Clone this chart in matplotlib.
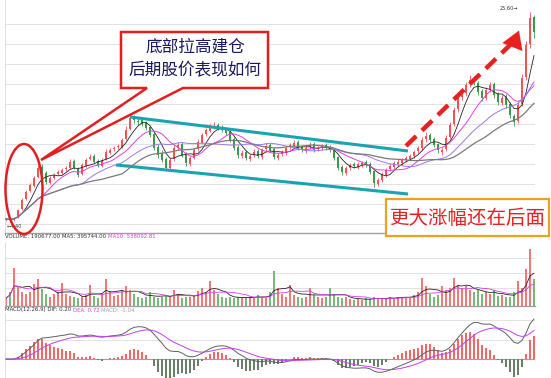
import numpy as np
import pandas as pd
import matplotlib.pyplot as plt
from matplotlib.patches import Ellipse, Rectangle, Polygon
from matplotlib.transforms import Affine2D

plt.rcParams['font.family'] = ['Noto Sans CJK SC', 'DejaVu Sans']

# 日K线数据
opens = [4.8, 4.9, 4.8, 5.1, 5.9, 6.9, 7.7, 8.2, 9.1, 10.1,
         9.5, 8.5, 9.0, 9.4, 9.5, 9.9, 10.0, 10.7, 9.9, 9.4,
         10.2, 10.9, 11.2, 10.7, 10.2, 10.9, 11.5, 11.9, 12.1, 12.1,
         12.9, 13.9, 15.1, 14.7, 14.8, 14.5, 14.1, 13.4, 12.1, 11.5,
         10.9, 10.0, 10.9, 12.0, 12.4, 11.4, 10.4, 11.0, 11.9, 12.5,
         13.4, 13.7, 14.0, 14.3, 14.1, 13.9, 13.6, 12.9, 12.1, 11.2,
         11.6, 10.9, 11.3, 11.7, 11.1, 11.9, 12.3, 11.9, 11.0, 11.4,
         11.5, 12.1, 12.2, 12.6, 12.1, 11.7, 12.1, 12.4, 11.9, 12.0,
         12.3, 12.1, 11.9, 11.1, 10.1, 9.5, 10.0, 10.4, 10.1, 10.3,
         10.6, 10.4, 9.7, 8.4, 8.8, 9.3, 9.9, 10.1, 10.4, 10.5,
         10.8, 10.9, 11.2, 11.7, 12.0, 12.9, 13.3, 12.9, 12.4, 11.6,
         11.9, 13.1, 14.4, 15.9, 17.1, 17.5, 18.4, 18.9, 18.5, 17.7,
         17.0, 17.9, 18.4, 17.4, 16.5, 17.1, 16.4, 15.2, 14.7, 16.4,
         19.1, 22.4, 25.1]
highs = [5.0, 5.0, 5.1, 5.9, 7.0, 7.8, 8.5, 9.2, 10.3, 10.4,
         9.7, 9.2, 9.5, 9.8, 10.0, 10.2, 10.9, 10.9, 10.1, 10.5,
         11.0, 11.4, 11.4, 10.9, 11.0, 11.9, 12.0, 12.2, 12.4, 13.0,
         14.2, 15.4, 15.3, 15.0, 15.0, 14.7, 14.3, 13.6, 12.4, 11.8,
         11.1, 11.0, 12.3, 12.6, 12.6, 11.6, 11.2, 12.0, 12.9, 13.5,
         14.0, 14.4, 14.6, 14.5, 14.3, 14.0, 13.8, 13.1, 12.3, 11.8,
         11.8, 11.4, 11.9, 11.9, 12.0, 12.5, 12.5, 12.1, 11.5, 11.8,
         12.2, 12.5, 12.8, 12.8, 12.3, 12.2, 12.6, 12.6, 12.2, 12.4,
         12.5, 12.3, 12.0, 11.2, 10.3, 10.2, 10.5, 10.6, 10.6, 10.7,
         10.8, 10.6, 9.8, 9.0, 9.6, 10.0, 10.4, 10.7, 10.9, 11.0,
         11.2, 11.4, 11.8, 12.2, 13.1, 13.6, 13.5, 13.1, 12.5, 12.0,
         13.3, 14.6, 16.1, 17.4, 18.0, 18.6, 19.3, 19.2, 18.7, 17.9,
         18.1, 18.6, 18.6, 17.6, 17.3, 17.4, 16.6, 15.4, 16.6, 19.4,
         22.7, 25.6, 25.3]
lows = [4.7, 4.6, 4.7, 5.0, 5.8, 6.8, 7.6, 8.1, 9.0, 9.4,
        8.4, 8.4, 8.9, 9.3, 9.4, 9.7, 9.9, 9.9, 9.1, 9.3,
        10.1, 10.8, 10.5, 10.1, 10.1, 10.8, 11.4, 11.7, 11.9, 12.0,
        12.8, 13.8, 14.5, 14.3, 14.2, 13.8, 13.1, 11.8, 11.0, 10.6,
        9.7, 9.9, 10.7, 11.8, 11.1, 10.2, 10.2, 10.9, 11.7, 12.4,
        13.2, 13.6, 13.9, 13.8, 13.6, 13.3, 12.6, 11.8, 11.0, 11.0,
        10.8, 10.7, 11.1, 11.0, 10.9, 11.7, 11.6, 10.9, 10.8, 11.2,
        11.3, 11.9, 12.0, 11.8, 11.6, 11.5, 11.9, 11.6, 11.7, 11.8,
        11.8, 11.6, 10.8, 9.8, 9.3, 9.3, 9.8, 10.0, 9.9, 10.1,
        10.1, 9.4, 8.1, 8.2, 8.6, 9.1, 9.7, 9.9, 10.2, 10.3,
        10.6, 10.7, 11.0, 11.5, 11.8, 12.6, 12.6, 12.1, 11.5, 11.3,
        11.7, 12.9, 14.2, 15.6, 16.8, 17.2, 18.1, 18.3, 17.3, 16.7,
        16.8, 17.6, 17.0, 16.3, 16.3, 16.0, 15.0, 14.2, 14.5, 16.2,
        18.8, 22.0, 23.0]
closes = [4.9, 4.8, 5.0, 5.8, 6.8, 7.6, 8.3, 9.0, 10.0, 9.6,
          8.6, 9.0, 9.3, 9.6, 9.8, 10.0, 10.6, 10.0, 9.3, 10.3,
          10.8, 11.1, 10.6, 10.3, 10.8, 11.6, 11.8, 12.0, 12.2, 12.8,
          13.8, 15.0, 14.8, 14.6, 14.4, 14.0, 13.3, 12.0, 11.3, 10.8,
          10.0, 10.8, 12.0, 12.3, 11.3, 10.5, 11.0, 11.8, 12.6, 13.3,
          13.8, 14.1, 14.2, 14.0, 13.8, 13.5, 12.8, 12.0, 11.3, 11.5,
          11.0, 11.2, 11.6, 11.2, 11.8, 12.2, 11.8, 11.1, 11.3, 11.6,
          12.0, 12.3, 12.5, 12.0, 11.8, 12.0, 12.3, 11.8, 12.0, 12.2,
          12.0, 11.8, 11.0, 10.0, 9.6, 10.0, 10.3, 10.2, 10.4, 10.5,
          10.3, 9.6, 8.5, 8.8, 9.4, 9.8, 10.2, 10.5, 10.6, 10.8,
          11.0, 11.2, 11.6, 12.0, 12.8, 13.2, 12.8, 12.3, 11.8, 11.8,
          13.0, 14.3, 15.8, 17.0, 17.6, 18.3, 18.8, 18.6, 17.6, 17.0,
          17.8, 18.3, 17.3, 16.6, 17.0, 16.3, 15.3, 14.6, 16.3, 19.0,
          22.3, 25.0, 23.6]
volume = [25, 45, 120, 60, 45, 38, 45, 70, 85, 55,
          38, 30, 38, 44, 72, 38, 32, 28, 25, 30,
          36, 66, 32, 26, 38, 86, 44, 32, 36, 50,
          62, 50, 38, 30, 26, 30, 44, 30, 25, 28,
          36, 30, 50, 38, 26, 28, 30, 36, 48, 56,
          44, 80, 50, 38, 30, 26, 28, 24, 30, 28,
          24, 30, 25, 36, 28, 26, 44, 112, 56, 38,
          30, 68, 36, 30, 25, 30, 56, 36, 28, 25,
          30, 56, 38, 30, 25, 28, 22, 20, 22, 20,
          24, 22, 28, 24, 22, 24, 30, 25, 28, 30,
          26, 30, 36, 44, 90, 62, 38, 28, 36, 62,
          50, 56, 88, 68, 56, 62, 50, 44, 50, 38,
          44, 38, 50, 32, 36, 28, 30, 44, 80, 56,
          118, 180, 86]

# 通道线和箭头（K线序号, 价格）
chan_top = ([31, 100.5], [15.1, 11.7])
chan_bot = ([27.5, 100.5], [10.3, 7.4])
arrow_from = (100, 12.2)
arrow_to = (128.5, 24.0)

df = pd.DataFrame({'open': opens, 'high': highs, 'low': lows,
                   'close': closes, 'vol': volume})
x = np.arange(len(df))
up = df['close'] >= df['open']
c_up, c_dn = '#f25454', '#3a9a4a'
small = ['DejaVu Sans']

W, H = 551, 378
fig = plt.figure(figsize=(W / 100, H / 100), dpi=100)
pix = Affine2D().scale(1 / W, -1 / H).translate(0, 1) + fig.transFigure


def px_axes(x0, y0, x1, y1):
    a = fig.add_axes([x0 / W, 1 - y1 / H, (x1 - x0) / W, (y1 - y0) / H])
    for s in ['top', 'right']:
        a.spines[s].set_visible(False)
    a.spines['left'].set_color('#d8d8d8')
    a.spines['left'].set_linewidth(0.6)
    a.spines['bottom'].set_color('#a0a0a0')
    a.spines['bottom'].set_linewidth(1.0)
    a.set_xticks([])
    a.set_yticks([])
    a.set_xlim(-0.25, len(df) - 0.75)
    return a


# ---------- 主图 ----------
ax = px_axes(5, 0, 535, 233)
ax.set_ylim(3.5, 26.8)
for g in np.arange(4.4, 25, 2.0):
    ax.axhline(g, color='#e2e2e2', lw=0.7, zorder=0)

cols = np.where(up, c_up, c_dn)
ax.vlines(x, df['low'], df['high'], colors=cols, lw=0.6, zorder=2)
ax.bar(x, (df['close'] - df['open']).abs().clip(lower=0.08),
       bottom=df[['open', 'close']].min(axis=1), width=0.6,
       color=cols, lw=0, zorder=2)

ma_style = {5: ('#222222', 0.6), 10: ('#e040e0', 0.7),
            20: ('#9a78f0', 0.7), 30: ('#7a7a7a', 0.9)}
for n, (c, lw) in ma_style.items():
    ax.plot(x, df['close'].rolling(n, min_periods=1).mean(), color=c, lw=lw, zorder=3)

ax.plot(*chan_top, color='#1aa3b3', lw=2.2, zorder=4, solid_capstyle='butt')
ax.plot(*chan_bot, color='#1aa3b3', lw=2.2, zorder=4, solid_capstyle='butt')

# 红色虚线箭头
ax.plot([arrow_from[0], arrow_to[0] - 1.2], [arrow_from[1], arrow_to[1] - 1.2],
        color='#e82020', lw=3.2, dashes=(3.2, 1.8), zorder=5)
ax.annotate('', xy=arrow_to, xytext=(arrow_to[0] - 2.2, arrow_to[1] - 2.2),
            arrowprops=dict(arrowstyle='-|>,head_length=0.9,head_width=0.55',
                            color='#e82020', lw=0.1, mutation_scale=14), zorder=5)

ax.text(2.2, df['low'][1] - 0.45, '←4.40', fontsize=3.6, color='#333333',
        va='center', ha='center', family=small)
ax.text(arrow_to[0] - 0.5, df['high'].max() + 0.1, '25.60→', fontsize=3.6,
        color='#333333', va='bottom', ha='right', family=small)

# ---------- 成交量 ----------
axv = px_axes(5, 243, 535, 306)
axv.set_ylim(0, 200)
for g in [57, 105, 152]:
    axv.axhline(g, color='#e2e2e2', lw=0.7, zorder=0)
axv.bar(x, df['vol'], width=0.6, color=np.where(up, '#f27878', '#78b878'), lw=0)
axv.plot(x, df['vol'].rolling(5, min_periods=1).mean(), color='#222222', lw=0.6)
axv.plot(x, df['vol'].rolling(10, min_periods=1).mean(), color='#d040e8', lw=0.6)

# ---------- MACD ----------
axm = px_axes(5, 313, 535, 378)
axm.spines['bottom'].set_visible(False)
ema12 = df['close'].ewm(span=12, adjust=False).mean()
ema26 = df['close'].ewm(span=26, adjust=False).mean()
dif = ema12 - ema26
dea = dif.ewm(span=9, adjust=False).mean()
hist = 2 * (dif - dea)
top = max(dif.max(), hist.max()) * 46 / 40
axm.set_ylim(-top * 19 / 46, top)
for g in [top * 19 / 46, top * 39 / 46]:
    axm.axhline(g, color='#e2e2e2', lw=0.7, zorder=0)
axm.axhline(0, color='#a0a0a0', lw=0.8, zorder=1)
axm.bar(x, hist, width=0.5, color=np.where(hist >= 0, '#f06868', '#6a7f6a'), lw=0, zorder=2)
axm.plot(x, dif, color='#606060', lw=0.7, zorder=3)
axm.plot(x, dea, color='#c040f0', lw=0.7, zorder=3)

# ---------- 指标文字 ----------
fs = 3.9


def label_row(y, parts):
    fig.canvas.draw()
    xp = 5
    for s, c in parts:
        t = fig.text(xp / W, 1 - y / H, s, fontsize=fs, color=c,
                     va='center', family=small)
        xp = t.get_window_extent(fig.canvas.get_renderer()).x1


label_row(237, [('VOLUME: 190677.00 MA5: 395744.00 ', '#333333'),
                ('MA10: 538092.81', '#e040e0')])
label_row(310, [('MACD(12,26,9) DIF: 0.20 ', '#333333'),
                ('DEA: 0.72 ', '#e040e0'),
                ('MACD: -1.04', '#a0a0a0')])

# ---------- 标注 ----------
fig.patches.append(Ellipse((24, 189), 37, 90, transform=pix, fill=False,
                           ec='#e02020', lw=1.8, zorder=10))
callout = Polygon([(121, 32), (268, 32), (268, 88), (183, 88), (41, 160),
                   (147, 88), (121, 88)], closed=True, transform=pix,
                  fc='white', ec='#e02020', lw=1.8, zorder=10)
fig.patches.append(callout)
fig.text(195 / W, 1 - 47 / H, '底部拉高建仓', fontsize=12, color='#1a1a60',
         ha='center', va='center', zorder=11)
fig.text(195 / W, 1 - 71 / H, '后期股价表现如何', fontsize=12, color='#1a1a60',
         ha='center', va='center', zorder=11)

fig.patches.append(Rectangle((386, 199), 163, 37, transform=pix, fc='white',
                             ec='#f0a020', lw=1.6, zorder=10))
fig.text(467 / W, 1 - 218 / H, '更大涨幅还在后面', fontsize=14, color='#e82020',
         ha='center', va='center', zorder=11)

fig.savefig('out.png', dpi=100)
